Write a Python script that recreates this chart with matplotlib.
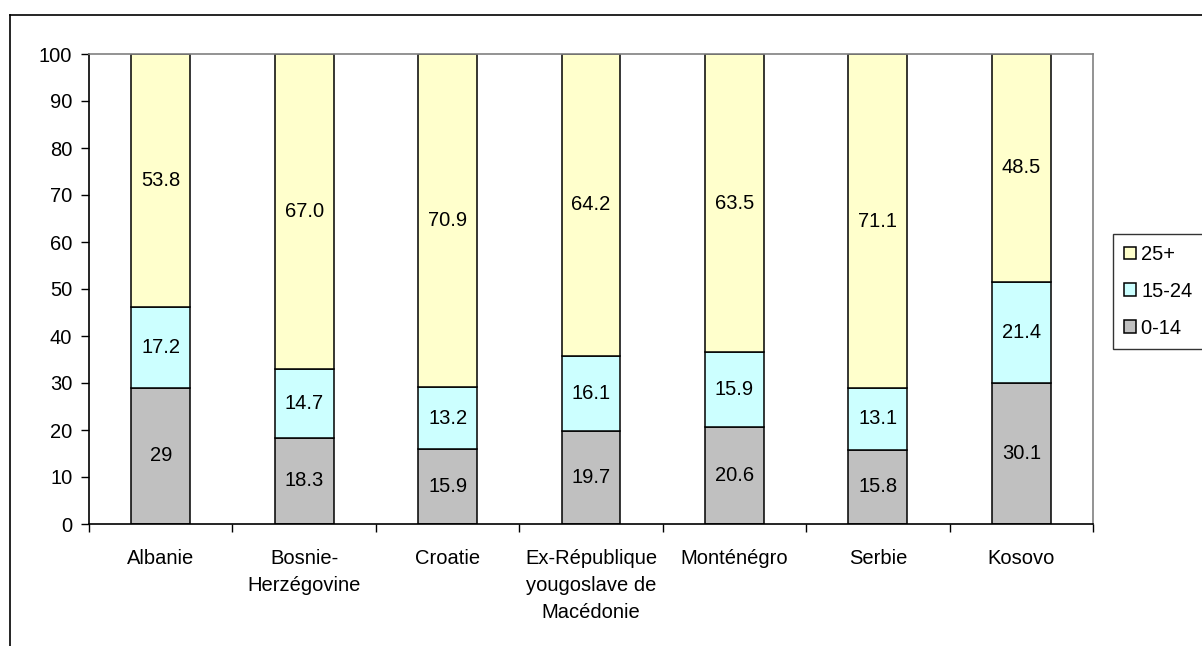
import matplotlib
matplotlib.use("Agg")
import matplotlib.pyplot as plt
from matplotlib.lines import Line2D
import numpy as np

plt.rcParams['font.family'] = ['Liberation Sans', 'DejaVu Sans']

categories = ["Albanie", "Bosnie-\nHerzégovine", "Croatie",
              "Ex-République\nyougoslave de\nMacédonie", "Monténégro",
              "Serbie", "Kosovo"]
age_0_14 = [29, 18.3, 15.9, 19.7, 20.6, 15.8, 30.1]
age_15_24 = [17.2, 14.7, 13.2, 16.1, 15.9, 13.1, 21.4]
age_25p = [53.8, 67.0, 70.9, 64.2, 63.5, 71.1, 48.5]
labels_0_14 = ["29", "18.3", "15.9", "19.7", "20.6", "15.8", "30.1"]
labels_15_24 = ["17.2", "14.7", "13.2", "16.1", "15.9", "13.1", "21.4"]
labels_25p = ["53.8", "67.0", "70.9", "64.2", "63.5", "71.1", "48.5"]
yticks = [0, 10, 20, 30, 40, 50, 60, 70, 80, 90, 100]

W, H = 1202, 646
fig = plt.figure(figsize=(W / 100, H / 100), dpi=100)
fig.patch.set_facecolor("white")

# outer frame
fig.add_artist(Line2D([10 / W, 10 / W], [0, 1 - 15 / H], transform=fig.transFigure,
                      color="black", lw=1.2))
fig.add_artist(Line2D([10 / W, 1], [1 - 15 / H, 1 - 15 / H], transform=fig.transFigure,
                      color="black", lw=1.2))

ax = fig.add_axes([89 / W, 1 - 524 / H, (1093 - 89) / W, (524 - 54) / H])
x = np.arange(len(categories))
bw = 0.41
fs = 14.5

c0, c1, c2 = "#C0C0C0", "#CCFFFF", "#FFFFCC"
b0 = ax.bar(x, age_0_14, bw, color=c0, edgecolor="black", lw=1.1, label="0-14")
bot1 = np.array(age_0_14)
b1 = ax.bar(x, age_15_24, bw, bottom=bot1, color=c1, edgecolor="black", lw=1.1, label="15-24")
bot2 = bot1 + np.array(age_15_24)
b2 = ax.bar(x, age_25p, bw, bottom=bot2, color=c2, edgecolor="black", lw=1.1, label="25+")

for i in range(len(categories)):
    ax.text(x[i], age_0_14[i] / 2, labels_0_14[i], ha="center", va="center", fontsize=fs)
    ax.text(x[i], bot1[i] + age_15_24[i] / 2, labels_15_24[i], ha="center", va="center", fontsize=fs)
    ax.text(x[i], bot2[i] + age_25p[i] / 2, labels_25p[i], ha="center", va="center", fontsize=fs)

ax.set_xlim(-0.5, len(categories) - 0.5)
ax.set_ylim(0, 100)
ax.set_yticks(yticks)
ax.set_yticklabels([str(v) for v in yticks], fontsize=fs)
ax.tick_params(axis="y", direction="out", length=6, width=1, pad=6)

ax.set_xticks(x)
ax.set_xticklabels(categories, fontsize=fs, linespacing=1.55)
ax.tick_params(axis="x", which="major", length=0, pad=18)
ax.set_xticks(np.arange(-0.5, len(categories), 1), minor=True)
ax.tick_params(axis="x", which="minor", direction="out", length=6, width=1)

for s in ["top", "right"]:
    ax.spines[s].set_color("#808080")
    ax.spines[s].set_linewidth(1.2)
for s in ["left", "bottom"]:
    ax.spines[s].set_color("black")
    ax.spines[s].set_linewidth(1.2)

leg = ax.legend(handles=[b2, b1, b0], labels=["25+", "15-24", "0-14   "],
                loc="upper left", bbox_to_anchor=(1113 / W, 1 - 234 / H),
                bbox_transform=fig.transFigure, frameon=True, fancybox=False,
                fontsize=fs, handlelength=0.6, handleheight=0.6, handletextpad=0.25,
                labelspacing=0.88, borderpad=0.55, borderaxespad=0)
leg.get_frame().set_edgecolor("black")
leg.get_frame().set_linewidth(1.0)

fig.savefig("out.png", dpi=100)
